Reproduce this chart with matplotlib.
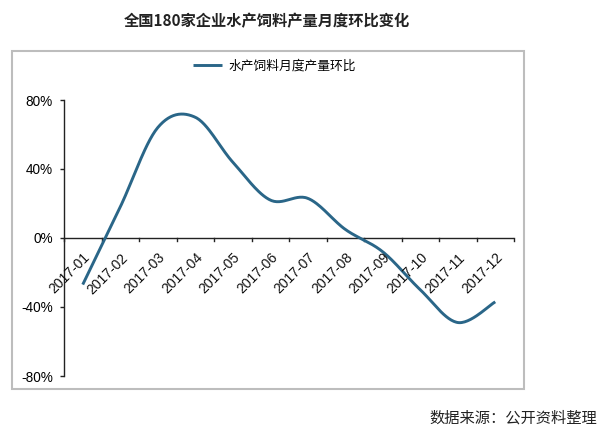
import numpy as np
import matplotlib
matplotlib.use("Agg")
import matplotlib.pyplot as plt
from matplotlib.patches import Rectangle

plt.rcParams['font.family'] = ['Noto Sans CJK SC', 'DejaVu Sans']

title = "全国180家企业水产饲料产量月度环比变化"
series_name = "水产饲料月度产量环比"
months = ["2017-01", "2017-02", "2017-03", "2017-04", "2017-05", "2017-06",
          "2017-07", "2017-08", "2017-09", "2017-10", "2017-11", "2017-12"]
values = [-27, 18, 64, 70, 44, 22, 23, 5, -8, -30, -49, -37]
yticks = [-80, -40, 0, 40, 80]
ytick_labels = ["-80%", "-40%", "0%", "40%", "80%"]
source = "数据来源：公开资料整理"

line_color = "#2a6688"

fig = plt.figure(figsize=(6.15, 4.38), dpi=100)
fig.patch.set_facecolor("white")

# outer frame
fig.patches.append(Rectangle((12/615, 1-389/438), (524-12)/615, (389-51)/438,
                             transform=fig.transFigure, fill=False,
                             edgecolor="#bdbdbd", linewidth=1.5))

ax = fig.add_axes([64/615, 1-376/438, (514-64)/615, (376-100)/438])

# smoothed line (Catmull-Rom style bezier like Excel)
n = len(values)
xs = np.arange(n, dtype=float)
ys = np.array(values, dtype=float)
px, py = [], []
t = np.linspace(0, 1, 30)
for i in range(n - 1):
    i0 = max(i - 1, 0)
    i3 = min(i + 2, n - 1)
    p0 = np.array([xs[i], ys[i]])
    p3 = np.array([xs[i + 1], ys[i + 1]])
    c1 = p0 + (np.array([xs[i + 1], ys[i + 1]]) - np.array([xs[i0], ys[i0]])) / 6
    c2 = p3 - (np.array([xs[i3], ys[i3]]) - np.array([xs[i], ys[i]])) / 6
    for tt in t:
        b = ((1-tt)**3)*p0 + 3*((1-tt)**2)*tt*c1 + 3*(1-tt)*tt**2*c2 + tt**3*p3
        px.append(b[0]); py.append(b[1])
ax.plot(px, py, color=line_color, linewidth=2.1, solid_capstyle="butt",
        label=series_name, zorder=3)

ax.set_xlim(-0.5, n - 0.5)
ax.set_ylim(-80, 80)

for s in ["top", "right", "bottom"]:
    ax.spines[s].set_visible(False)
ax.spines["left"].set_color("#222222")
ax.spines["left"].set_linewidth(1.0)
ax.axhline(0, color="#222222", linewidth=1.0, zorder=2)

ax.set_yticks(yticks)
ax.set_yticklabels(ytick_labels, fontsize=9.8, family=["Liberation Sans", "DejaVu Sans"])
ax.tick_params(axis="y", direction="out", length=3, width=1, color="#222222", pad=5)

# x ticks at category boundaries on zero line
ax.set_xticks([])
for b in np.arange(-0.5, n, 1.0):
    ax.plot([b, b], [0, -1.5], color="#222222", linewidth=1.0, clip_on=False, zorder=2)
for i, m in enumerate(months):
    ax.annotate(m, xy=(i, 0), xytext=(0, -9), textcoords="offset points",
                rotation=45, ha="right", va="top", rotation_mode="anchor",
                fontsize=10, family=["Liberation Sans", "DejaVu Sans"], color="#111111")

leg = ax.legend(loc="center", bbox_to_anchor=(0.467, 1.123), frameon=False,
                fontsize=9.2, handlelength=2.3, handletextpad=0.5)

fig.text(267/615, 1-21/438, title, ha="center", va="center", fontsize=11,
         fontweight="bold", color="#222222")
fig.text(597/615, 1-418/438, source, ha="right", va="center", fontsize=11, color="#222222")

fig.savefig("out.png", dpi=100, facecolor="white")
